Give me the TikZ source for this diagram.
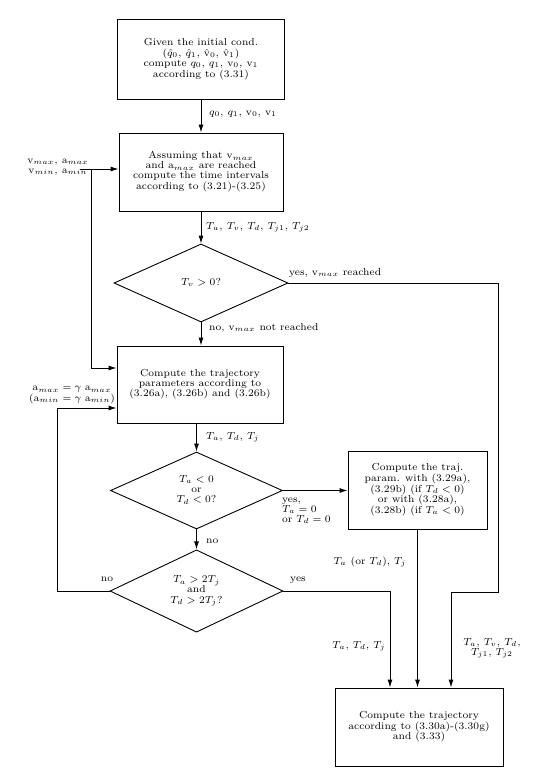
\documentclass[tikz,border=0pt]{standalone}
\usetikzlibrary{shapes.geometric,arrows.meta}
\newcommand{\rmv}{\mathrm{v}}
\newcommand{\rma}{\mathrm{a}}
\newcommand{\tx}[2][c]{\scalebox{1.45}{\fontsize{7}{6.9}\selectfont\begin{tabular}{@{}#1@{}}#2\end{tabular}}}
\begin{document}
\begin{tikzpicture}[x=1pt,y=-1pt,
  box/.style={draw, rectangle, inner sep=0pt, line width=0.9pt},
  dia/.style={draw, diamond, inner sep=0pt, line width=0.9pt},
  lbl/.style={inner sep=0pt},
  conn/.style={line width=0.9pt},
  arr/.style={conn, -{Latex[length=8pt,width=5pt]}}]
\useasboundingbox[fill=white] (0,0) rectangle (558,782);

% boxes and decisions
\node[box, minimum width=167pt, minimum height=80pt] (b1) at (201,59)
  {\tx{Given the initial cond.\\[0.6pt] $(\hat q_0,\, \hat q_1,\, \hat{\rmv}_0,\, \hat{\rmv}_1)$\\ compute $q_0,\, q_1,\, \rmv_0,\, \rmv_1$\\ according to (3.31)}};
\node[box, minimum width=164pt, minimum height=78pt] (b2) at (201,172)
  {\tx{Assuming that $\rmv_{max}$\\ and $\rma_{max}$ are reached\\ compute the time intervals\\ according to (3.21)-(3.25)}};
\node[dia, minimum width=174pt, minimum height=78pt] (d1) at (201,283)
  {\tx{$T_v > 0$?}};
\node[box, minimum width=166pt, minimum height=77pt] (b3) at (200,384.5)
  {\tx{Compute the trajectory\\ parameters according to\\ (3.26a), (3.26b) and (3.26b)}};
\node[dia, minimum width=172pt, minimum height=77pt] (d2) at (196.5,490.5)
  {\tx{$T_a < 0$\\ or\\ $T_d < 0$?}};
\node[box, minimum width=139pt, minimum height=78pt] (b4) at (417.5,490)
  {\tx{Compute the traj.\\ param. with (3.29a),\\ (3.29b) (if $T_d < 0$)\\ or with (3.28a),\\ (3.28b) (if $T_a < 0$)}};
\node[dia, minimum width=173pt, minimum height=78pt] (d3) at (196.5,591)
  {\tx{$T_a > 2T_j$\\ and\\ $T_d > 2T_j$?}};
\node[box, minimum width=168pt, minimum height=78pt] (b5) at (419,727)
  {\tx{Compute the trajectory\\ according to (3.30a)-(3.30g)\\ and (3.33)}};

% labels
\node[lbl, anchor=west] (l1) at (209,113) {\tx{$q_0,\, q_1,\, \rmv_0,\, \rmv_1$}};
\node[lbl, anchor=west] (l2) at (206,227) {\tx{$T_a,\, T_v,\, T_d,\, T_{j1},\, T_{j2}$}};
\node[lbl] (l3) at (58,166) {\tx{$\rmv_{max},\, \rma_{max}$\\ $\rmv_{min},\, \rma_{min}$}};
\node[lbl, anchor=west] (l4) at (289,273) {\tx{yes, $\rmv_{max}$ reached}};
\node[lbl, anchor=west] (l5) at (209,328) {\tx{no, $\rmv_{max}$ not reached}};
\node[lbl] (l6) at (72,394) {\tx{$\rma_{max} = \gamma\;\rma_{max}$\\ $(\rma_{min} = \gamma\;\rma_{min})$}};
\node[lbl, anchor=west] (l7) at (206,437) {\tx{$T_a,\, T_d,\, T_j$}};
\node[lbl, anchor=west] (l8) at (282,510) {\tx[l]{yes,\\ $T_a = 0$\\ or $T_d = 0$}};
\node[lbl, anchor=west] (l9) at (206,541) {\tx{no}};
\node[lbl] (l10) at (107,579) {\tx{no}};
\node[lbl] (l11) at (298,579) {\tx{yes}};
\node[lbl] (l12) at (370,562) {\tx{$T_a$ (or $T_d$), $T_j$}};
\node[lbl] (l13) at (359,646) {\tx{$T_a,\, T_d,\, T_j$}};
\node[lbl] (l14) at (492,648) {\tx{$T_a,\, T_v,\, T_d,$\\ $T_{j1},\, T_{j2}$}};

% helper coordinates
\coordinate (vin) at (80,169);
\coordinate (vs) at (91,169);
\coordinate (vt) at (91,368);
\coordinate (fb) at (57,408);
\coordinate (r1) at (498,592);
\coordinate (r2) at (451,592);
\coordinate (y3) at (390,591);

% connectors
\draw[arr] (b1.south) -- (b1.south |- b2.north);
\draw[arr] (b2.south) -- (b2.south |- d1.north);
\draw[arr] (d1.south) -- (d1.south |- b3.north);
\draw[arr] (b3.south -| d2.north) -- (d2.north);
\draw[arr] (d2.south) -- (d3.north);
\draw[arr] (vin) -- (b2.west |- vin);
\draw[arr] (vs) -- (vt) -- (vt -| b3.west);
\draw[arr] (d3.west) -- (d3.west -| fb) -- (fb) -- (fb -| b3.west);
\draw[arr] (d1.east) -- (d1.east -| r1) -- (r1) -- (r2) -- (r2 |- b5.north);
\draw[arr] (d2.east) -- (d2.east -| b4.west);
\draw[arr] (b4.south) -- (b4.south |- b5.north);
\draw[arr] (d3.east) -- (d3.east -| y3) -- (y3 |- b5.north);
\end{tikzpicture}
\end{document}
